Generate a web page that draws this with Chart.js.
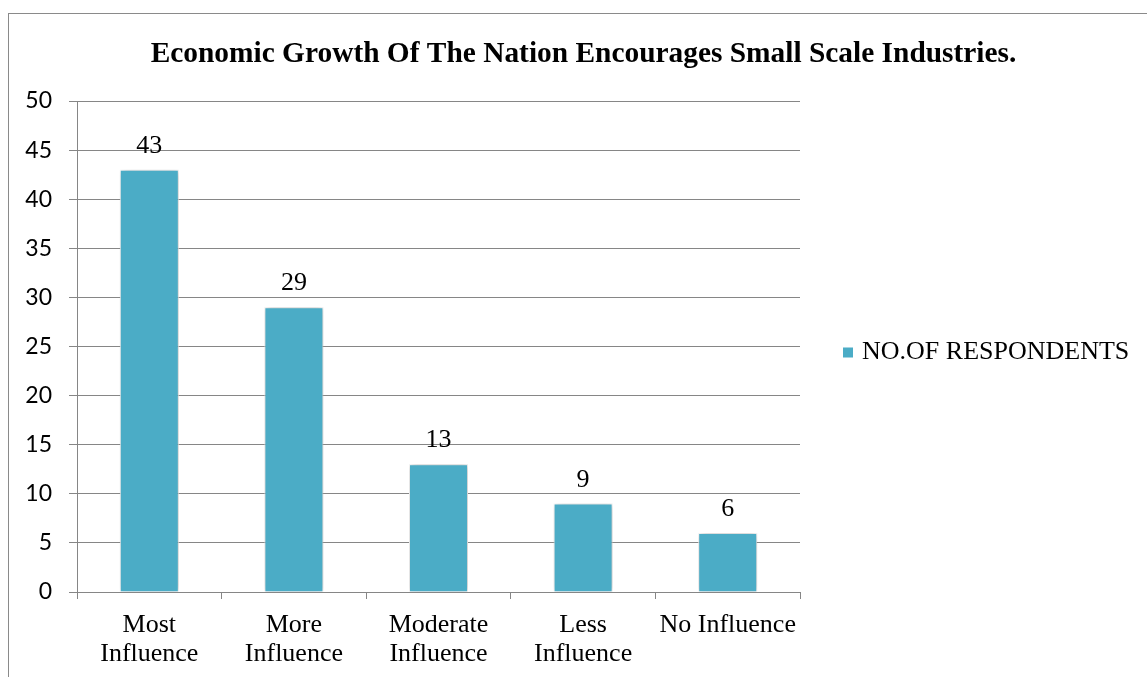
<!DOCTYPE html>
<html>
<head>
<meta charset="utf-8">
<script src="https://cdn.jsdelivr.net/npm/chart.js@4"></script>
<style>
  html, body { margin: 0; padding: 0; background: #fff; }
  #wrap { width: 1147px; height: 677px; position: relative; }
</style>
</head>
<body>
<div id="wrap"><canvas id="c"></canvas></div>
<script>
const chartTitle = 'Economic Growth Of The Nation Encourages Small Scale Industries.';
const categories = [['Most', 'Influence'], ['More', 'Influence'], ['Moderate', 'Influence'], ['Less', 'Influence'], 'No Influence'];
const seriesName = 'NO.OF RESPONDENTS';
const respondents = [43, 29, 13, 9, 6];
const yMin = 0, yMax = 50, yStep = 5;

const BAR = '#4BACC6';
const GRID = '#868686';
const SERIF = '"Liberation Serif", "Times New Roman", serif';
const SANS = 'Lato, "Open Sans", sans-serif';

const framePlugin = {
  id: 'frame',
  beforeDraw(chart) {
    const ctx = chart.ctx;
    ctx.save();
    ctx.fillStyle = '#fff';
    ctx.fillRect(0, 0, chart.width, chart.height);
    ctx.strokeStyle = '#8a8a8a';
    ctx.lineWidth = 1;
    ctx.strokeRect(8.5, 13.5, chart.width + 20, chart.height + 20);
    ctx.restore();
  }
};

const shadowPlugin = {
  id: 'barShadow',
  beforeDatasetDraw(chart) {
    const ctx = chart.ctx;
    ctx.save();
    ctx.shadowColor = 'rgba(0,0,0,0.3)';
    ctx.shadowBlur = 7;
    ctx.shadowOffsetX = 1;
    ctx.shadowOffsetY = 0;
  },
  afterDatasetDraw(chart) {
    chart.ctx.restore();
  }
};

const labelPlugin = {
  id: 'valueLabels',
  afterDatasetsDraw(chart) {
    const ctx = chart.ctx;
    const meta = chart.getDatasetMeta(0);
    ctx.save();
    ctx.font = '26px ' + SERIF;
    ctx.fillStyle = '#000';
    ctx.textAlign = 'center';
    ctx.textBaseline = 'alphabetic';
    meta.data.forEach((bar, i) => {
      ctx.fillText(String(chart.data.datasets[0].data[i]), bar.x, bar.y - 17);
    });
    ctx.restore();
  }
};

const legendPlugin = {
  id: 'customLegend',
  afterDraw(chart) {
    const ctx = chart.ctx;
    const a = chart.chartArea;
    const cy = (a.top + a.bottom) / 2 + 6;
    const x0 = a.right + 43;
    ctx.save();
    ctx.fillStyle = BAR;
    ctx.fillRect(x0, cy - 5, 10, 10);
    ctx.font = '26px ' + SERIF;
    ctx.fillStyle = '#000';
    ctx.textAlign = 'left';
    ctx.textBaseline = 'middle';
    ctx.fillText(chart.data.datasets[0].label, x0 + 19, cy);
    ctx.restore();
  }
};

new Chart(document.getElementById('c'), {
  type: 'bar',
  data: {
    labels: categories,
    datasets: [{
      label: seriesName,
      data: respondents,
      backgroundColor: BAR,
      borderColor: '#ffffff',
      borderWidth: 1,
      categoryPercentage: 1.0,
      barPercentage: 0.408,
      yAxisID: 'y'
    }]
  },
  options: {
    responsive: true,
    maintainAspectRatio: false,
    animation: false,
    devicePixelRatio: 1,
    layout: { padding: { left: 20, right: 0, top: 0, bottom: 0 } },
    plugins: {
      legend: { display: false },
      tooltip: { enabled: false },
      title: {
        display: true,
        text: chartTitle,
        color: '#000',
        font: { family: SERIF, size: 29.4, weight: 'bold', lineHeight: 1.2 },
        padding: { top: 37, bottom: 28.72 }
      }
    },
    scales: {
      x: {
        offset: true,
        grid: { display: true, drawOnChartArea: false, drawTicks: true, tickLength: 7, color: GRID, offset: true },
        border: { display: true, color: GRID, width: 1 },
        ticks: { color: '#000', font: { family: SERIF, size: 26, lineHeight: 1.1 }, padding: 12, maxRotation: 0, autoSkip: false },
        afterFit(scale) { scale.height = 85; }
      },
      y: {
        min: yMin, max: yMax,
        ticks: { stepSize: yStep, color: '#000', font: { family: SANS, size: 23 }, padding: 17 },
        grid: { color: GRID, lineWidth: 1, tickLength: 8, drawTicks: true },
        border: { display: true, color: GRID, width: 1 },
        afterFit(scale) { scale.width = 57; }
      },
      yRight: {
        position: 'right',
        min: yMin, max: yMax,
        grid: { display: false, drawTicks: false },
        border: { display: false },
        ticks: { display: false },
        afterFit(scale) { scale.width = 347; }
      }
    }
  },
  plugins: [framePlugin, shadowPlugin, labelPlugin, legendPlugin]
});
</script>
</body>
</html>
